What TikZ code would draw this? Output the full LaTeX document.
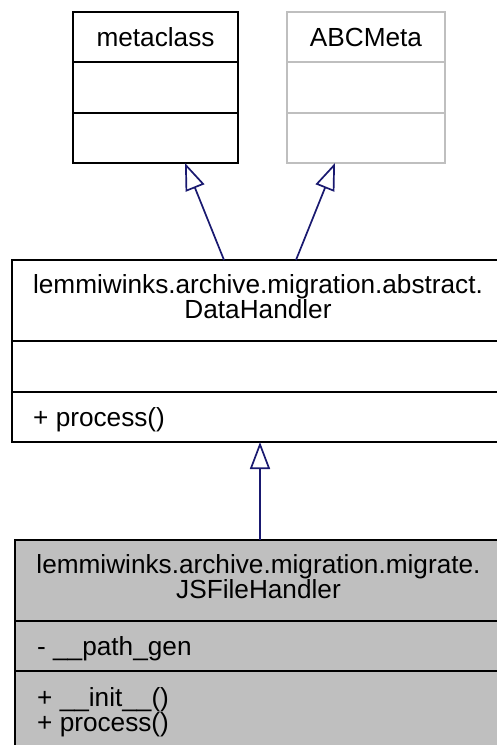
\documentclass[tikz,border=0pt]{standalone}
\usepackage{fontspec}
\setmainfont{Liberation Sans}
\usetikzlibrary{arrows.meta,calc}
\definecolor{edgeblue}{HTML}{191970}
\definecolor{boxgray}{HTML}{BFBFBF}
\begin{document}
\begin{tikzpicture}[x=1pt,y=-1pt,
  box/.style={draw=black,line width=1.7pt,inner sep=0pt,outer sep=0pt,anchor=north west},
  sep/.style={line width=1.7pt},
  lbl/.style={font=\fontsize{26.2}{25}\selectfont,inner sep=0pt,anchor=base},
  lbll/.style={font=\fontsize{26.2}{25}\selectfont,inner sep=0pt,anchor=base west},
  inh/.style={draw=edgeblue,line width=1.7pt,-{Triangle[open,length=27pt,width=20pt,line width=1.7pt]}}]
\useasboundingbox (0,0) rectangle (496,745);
% metaclass
\node[box,minimum width=165pt,minimum height=151pt] (meta) at (73,12) {};
\draw[sep] (73,62) -- (238,62) (73,113) -- (238,113);
\node[lbl] (metat) at (155.5,46) {metaclass};
% ABCMeta
\node[box,draw=boxgray,minimum width=158pt,minimum height=151pt] (abc) at (287,12) {};
\draw[sep,boxgray] (287,62) -- (445,62) (287,113) -- (445,113);
\node[lbl] (abct) at (366,46) {ABCMeta};
% DataHandler
\node[box,minimum width=492pt,minimum height=182pt] (dh) at (12,260) {};
\draw[sep] (12,341) -- (504,341) (12,392) -- (504,392);
\node[lbl] (dht1) at (258,293) {lemmiwinks.archive.migration.abstract.};
\node[lbl] (dht2) at (258,318) {DataHandler};
\node[lbll] (dhm) at (33,426) {+ process()};
% JSFileHandler
\node[box,fill=boxgray,minimum width=487pt,minimum height=220pt] (js) at (15,540) {};
\draw[sep] (15,621) -- (502,621) (15,671) -- (502,671);
\node[lbl] (jst1) at (258.5,573) {lemmiwinks.archive.migration.migrate.};
\node[lbl] (jst2) at (258.5,598) {JSFileHandler};
\node[lbll] (jsa) at (37,655) {- \_\_path\_gen};
\node[lbll] (jsm1) at (37,706) {+ \_\_init\_\_()};
\node[lbll] (jsm2) at (37,731) {+ process()};
% connectors
\draw[inh] ($(dh.north west)+(212,0)$) -- ($(meta.south west)+(112,0)$);
\draw[inh] ($(dh.north west)+(284,0)$) -- ($(abc.south west)+(48,0)$);
\draw[inh] ($(js.north west)+(245,0)$) -- ($(dh.south west)+(248,0)$);
\end{tikzpicture}
\end{document}
